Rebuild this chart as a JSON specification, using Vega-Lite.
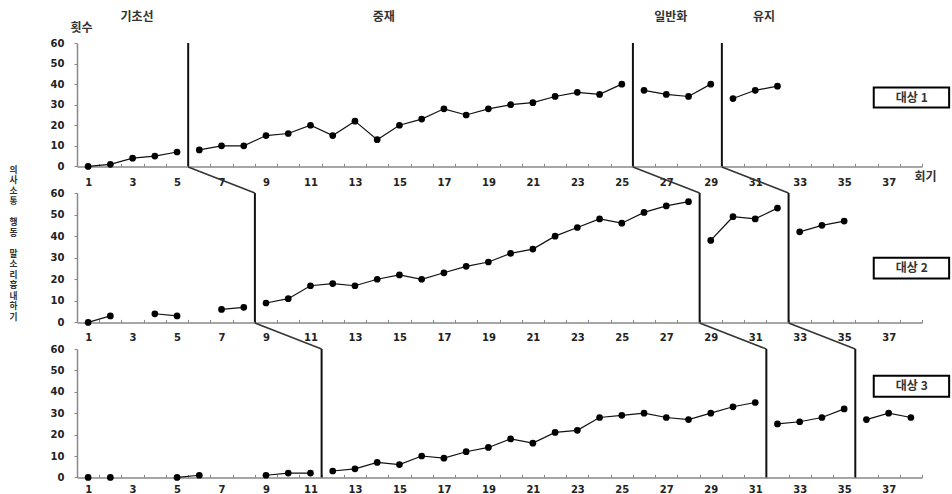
{
  "$schema": "https://vega.github.io/schema/vega-lite/v6.json",
  "padding": {"left": 9, "top": 11, "right": 0, "bottom": 0},
  "bounds": "flush",
  "spacing": 26,
  "datasets": {
    "sessions": [
      {"subject": "대상 1", "seg": "1b", "session": 1, "count": 0},
      {"subject": "대상 1", "seg": "1b", "session": 2, "count": 1},
      {"subject": "대상 1", "seg": "1b", "session": 3, "count": 4},
      {"subject": "대상 1", "seg": "1b", "session": 4, "count": 5},
      {"subject": "대상 1", "seg": "1b", "session": 5, "count": 7},
      {"subject": "대상 1", "seg": "1i", "session": 6, "count": 8},
      {"subject": "대상 1", "seg": "1i", "session": 7, "count": 10},
      {"subject": "대상 1", "seg": "1i", "session": 8, "count": 10},
      {"subject": "대상 1", "seg": "1i", "session": 9, "count": 15},
      {"subject": "대상 1", "seg": "1i", "session": 10, "count": 16},
      {"subject": "대상 1", "seg": "1i", "session": 11, "count": 20},
      {"subject": "대상 1", "seg": "1i", "session": 12, "count": 15},
      {"subject": "대상 1", "seg": "1i", "session": 13, "count": 22},
      {"subject": "대상 1", "seg": "1i", "session": 14, "count": 13},
      {"subject": "대상 1", "seg": "1i", "session": 15, "count": 20},
      {"subject": "대상 1", "seg": "1i", "session": 16, "count": 23},
      {"subject": "대상 1", "seg": "1i", "session": 17, "count": 28},
      {"subject": "대상 1", "seg": "1i", "session": 18, "count": 25},
      {"subject": "대상 1", "seg": "1i", "session": 19, "count": 28},
      {"subject": "대상 1", "seg": "1i", "session": 20, "count": 30},
      {"subject": "대상 1", "seg": "1i", "session": 21, "count": 31},
      {"subject": "대상 1", "seg": "1i", "session": 22, "count": 34},
      {"subject": "대상 1", "seg": "1i", "session": 23, "count": 36},
      {"subject": "대상 1", "seg": "1i", "session": 24, "count": 35},
      {"subject": "대상 1", "seg": "1i", "session": 25, "count": 40},
      {"subject": "대상 1", "seg": "1g", "session": 26, "count": 37},
      {"subject": "대상 1", "seg": "1g", "session": 27, "count": 35},
      {"subject": "대상 1", "seg": "1g", "session": 28, "count": 34},
      {"subject": "대상 1", "seg": "1g", "session": 29, "count": 40},
      {"subject": "대상 1", "seg": "1m", "session": 30, "count": 33},
      {"subject": "대상 1", "seg": "1m", "session": 31, "count": 37},
      {"subject": "대상 1", "seg": "1m", "session": 32, "count": 39},
      {"subject": "대상 2", "seg": "2b1", "session": 1, "count": 0},
      {"subject": "대상 2", "seg": "2b1", "session": 2, "count": 3},
      {"subject": "대상 2", "seg": "2b2", "session": 4, "count": 4},
      {"subject": "대상 2", "seg": "2b2", "session": 5, "count": 3},
      {"subject": "대상 2", "seg": "2b3", "session": 7, "count": 6},
      {"subject": "대상 2", "seg": "2b3", "session": 8, "count": 7},
      {"subject": "대상 2", "seg": "2i", "session": 9, "count": 9},
      {"subject": "대상 2", "seg": "2i", "session": 10, "count": 11},
      {"subject": "대상 2", "seg": "2i", "session": 11, "count": 17},
      {"subject": "대상 2", "seg": "2i", "session": 12, "count": 18},
      {"subject": "대상 2", "seg": "2i", "session": 13, "count": 17},
      {"subject": "대상 2", "seg": "2i", "session": 14, "count": 20},
      {"subject": "대상 2", "seg": "2i", "session": 15, "count": 22},
      {"subject": "대상 2", "seg": "2i", "session": 16, "count": 20},
      {"subject": "대상 2", "seg": "2i", "session": 17, "count": 23},
      {"subject": "대상 2", "seg": "2i", "session": 18, "count": 26},
      {"subject": "대상 2", "seg": "2i", "session": 19, "count": 28},
      {"subject": "대상 2", "seg": "2i", "session": 20, "count": 32},
      {"subject": "대상 2", "seg": "2i", "session": 21, "count": 34},
      {"subject": "대상 2", "seg": "2i", "session": 22, "count": 40},
      {"subject": "대상 2", "seg": "2i", "session": 23, "count": 44},
      {"subject": "대상 2", "seg": "2i", "session": 24, "count": 48},
      {"subject": "대상 2", "seg": "2i", "session": 25, "count": 46},
      {"subject": "대상 2", "seg": "2i", "session": 26, "count": 51},
      {"subject": "대상 2", "seg": "2i", "session": 27, "count": 54},
      {"subject": "대상 2", "seg": "2i", "session": 28, "count": 56},
      {"subject": "대상 2", "seg": "2g", "session": 29, "count": 38},
      {"subject": "대상 2", "seg": "2g", "session": 30, "count": 49},
      {"subject": "대상 2", "seg": "2g", "session": 31, "count": 48},
      {"subject": "대상 2", "seg": "2g", "session": 32, "count": 53},
      {"subject": "대상 2", "seg": "2m", "session": 33, "count": 42},
      {"subject": "대상 2", "seg": "2m", "session": 34, "count": 45},
      {"subject": "대상 2", "seg": "2m", "session": 35, "count": 47},
      {"subject": "대상 3", "seg": "3b1", "session": 1, "count": 0},
      {"subject": "대상 3", "seg": "3b2", "session": 2, "count": 0},
      {"subject": "대상 3", "seg": "3b3", "session": 5, "count": 0},
      {"subject": "대상 3", "seg": "3b3", "session": 6, "count": 1},
      {"subject": "대상 3", "seg": "3b4", "session": 9, "count": 1},
      {"subject": "대상 3", "seg": "3b4", "session": 10, "count": 2},
      {"subject": "대상 3", "seg": "3b4", "session": 11, "count": 2},
      {"subject": "대상 3", "seg": "3i", "session": 12, "count": 3},
      {"subject": "대상 3", "seg": "3i", "session": 13, "count": 4},
      {"subject": "대상 3", "seg": "3i", "session": 14, "count": 7},
      {"subject": "대상 3", "seg": "3i", "session": 15, "count": 6},
      {"subject": "대상 3", "seg": "3i", "session": 16, "count": 10},
      {"subject": "대상 3", "seg": "3i", "session": 17, "count": 9},
      {"subject": "대상 3", "seg": "3i", "session": 18, "count": 12},
      {"subject": "대상 3", "seg": "3i", "session": 19, "count": 14},
      {"subject": "대상 3", "seg": "3i", "session": 20, "count": 18},
      {"subject": "대상 3", "seg": "3i", "session": 21, "count": 16},
      {"subject": "대상 3", "seg": "3i", "session": 22, "count": 21},
      {"subject": "대상 3", "seg": "3i", "session": 23, "count": 22},
      {"subject": "대상 3", "seg": "3i", "session": 24, "count": 28},
      {"subject": "대상 3", "seg": "3i", "session": 25, "count": 29},
      {"subject": "대상 3", "seg": "3i", "session": 26, "count": 30},
      {"subject": "대상 3", "seg": "3i", "session": 27, "count": 28},
      {"subject": "대상 3", "seg": "3i", "session": 28, "count": 27},
      {"subject": "대상 3", "seg": "3i", "session": 29, "count": 30},
      {"subject": "대상 3", "seg": "3i", "session": 30, "count": 33},
      {"subject": "대상 3", "seg": "3i", "session": 31, "count": 35},
      {"subject": "대상 3", "seg": "3g", "session": 32, "count": 25},
      {"subject": "대상 3", "seg": "3g", "session": 33, "count": 26},
      {"subject": "대상 3", "seg": "3g", "session": 34, "count": 28},
      {"subject": "대상 3", "seg": "3g", "session": 35, "count": 32},
      {"subject": "대상 3", "seg": "3m", "session": 36, "count": 27},
      {"subject": "대상 3", "seg": "3m", "session": 37, "count": 30},
      {"subject": "대상 3", "seg": "3m", "session": 38, "count": 28}
    ],
    "phases": [
      {"subject": "대상 1", "at": 5.5},
      {"subject": "대상 1", "at": 25.5},
      {"subject": "대상 1", "at": 29.5},
      {"subject": "대상 2", "prev": 5.5, "at": 8.5},
      {"subject": "대상 2", "prev": 25.5, "at": 28.5},
      {"subject": "대상 2", "prev": 29.5, "at": 32.5},
      {"subject": "대상 3", "prev": 8.5, "at": 11.5},
      {"subject": "대상 3", "prev": 28.5, "at": 31.5},
      {"subject": "대상 3", "prev": 32.5, "at": 35.5}
    ],
    "phaseLabels": [
      {"label": "기초선", "mid": 3.2},
      {"label": "중재", "mid": 14.3},
      {"label": "일반화", "mid": 27.2},
      {"label": "유지", "mid": 31.4}
    ],
    "subjects": [
      {"subject": "대상 1"},
      {"subject": "대상 2"},
      {"subject": "대상 3"}
    ]
  },
  "vconcat": [
    {
      "width": 845,
      "height": 123.4,
      "layer": [
        {
          "data": {"name": "sessions"},
          "transform": [{"filter": "datum.subject === '대상 1'"}],
          "mark": {"type": "line", "color": "#111", "strokeWidth": 1.2},
          "encoding": {
            "x": {"field": "session", "type": "quantitative",
              "scale": {"domain": [0.5, 38.5], "nice": false, "zero": false},
              "axis": {"title": "회기", "titleX": 848, "titleY": 10, "titleAlign": "center", "titleBaseline": "middle",
                "values": [0.5,1,1.5,2.5,3,3.5,4.5,5,5.5,6.5,7,7.5,8.5,9,9.5,10.5,11,11.5,12.5,13,13.5,14.5,15,15.5,16.5,17,17.5,18.5,19,19.5,20.5,21,21.5,22.5,23,23.5,24.5,25,25.5,26.5,27,27.5,28.5,29,29.5,30.5,31,31.5,32.5,33,33.5,34.5,35,35.5,36.5,37,37.5,38.5],
                "tickCount": 200,
                "labelExpr": "datum.value % 2 === 1 ? '' + datum.value : ''",
                "tickOpacity": {"condition": {"test": "datum.value % 1 === 0", "value": 0}, "value": 1},
                "tickSize": -3, "labelPadding": 14, "labelOverlap": false, "labelFlush": false}},
            "y": {"field": "count", "type": "quantitative",
              "scale": {"domain": [0, 60], "nice": false},
              "axis": {"values": [0,10,20,30,40,50,60], "tickCount": 20, "tickSize": 3, "labelPadding": 10, "labelOverlap": false,
                "title": "횟수", "titleAngle": 0, "titleX": 4, "titleY": -15.5, "titleAlign": "center", "titleBaseline": "middle"}},
            "detail": {"field": "seg"}
          }
        },
        {
          "data": {"name": "sessions"},
          "transform": [{"filter": "datum.subject === '대상 1'"}],
          "mark": {"type": "point", "filled": true, "color": "#000", "size": 45, "opacity": 1},
          "encoding": {
            "x": {"field": "session", "type": "quantitative"},
            "y": {"field": "count", "type": "quantitative"}
          }
        },
        {
          "data": {"name": "phases"},
          "transform": [{"filter": "datum.subject === '대상 1'"}],
          "mark": {"type": "rule", "color": "#111", "strokeWidth": 2, "clip": false},
          "encoding": {
            "x": {"field": "at", "type": "quantitative"},
            "y": {"datum": 0},
            "y2": {"datum": 60}
          }
        },
        {
          "data": {"name": "phaseLabels"},
          "mark": {"type": "text", "font": "Noto Sans CJK KR", "fontSize": 12, "fontWeight": "bold", "color": "#333", "baseline": "middle", "align": "center", "clip": false},
          "encoding": {
            "x": {"field": "mid", "type": "quantitative"},
            "y": {"datum": 72.6},
            "text": {"field": "label"}
          }
        },
        {
          "data": {"name": "subjects"},
          "transform": [{"filter": "datum.subject === '대상 1'"}],
          "mark": {"type": "rect", "fill": "#fff", "stroke": "#000", "strokeWidth": 2, "clip": false},
          "encoding": {
            "x": {"datum": 36.33}, "x2": {"datum": 39.72},
            "y": {"datum": 38.4}, "y2": {"datum": 28.6}
          }
        },
        {
          "data": {"name": "subjects"},
          "transform": [{"filter": "datum.subject === '대상 1'"}],
          "mark": {"type": "text", "font": "Noto Sans CJK KR", "fontSize": 12, "fontWeight": "bold", "color": "#333", "baseline": "middle", "align": "center", "clip": false},
          "encoding": {
            "x": {"datum": 38.04},
            "y": {"datum": 33.5},
            "text": {"field": "subject"}
          }
        }
      ]
    },
    {
      "width": 845,
      "height": 129.4,
      "layer": [
        {
          "data": {"name": "sessions"},
          "transform": [{"filter": "datum.subject === '대상 2'"}],
          "mark": {"type": "line", "color": "#111", "strokeWidth": 1.2},
          "encoding": {
            "x": {"field": "session", "type": "quantitative",
              "scale": {"domain": [0.5, 38.5], "nice": false, "zero": false},
              "axis": {"title": null,
                "values": [0.5,1,1.5,2.5,3,3.5,4.5,5,5.5,6.5,7,7.5,8.5,9,9.5,10.5,11,11.5,12.5,13,13.5,14.5,15,15.5,16.5,17,17.5,18.5,19,19.5,20.5,21,21.5,22.5,23,23.5,24.5,25,25.5,26.5,27,27.5,28.5,29,29.5,30.5,31,31.5,32.5,33,33.5,34.5,35,35.5,36.5,37,37.5,38.5],
                "tickCount": 200,
                "labelExpr": "datum.value % 2 === 1 ? '' + datum.value : ''",
                "tickOpacity": {"condition": {"test": "datum.value % 1 === 0", "value": 0}, "value": 1},
                "tickSize": -3, "labelPadding": 13, "labelOverlap": false, "labelFlush": false}},
            "y": {"field": "count", "type": "quantitative",
              "scale": {"domain": [0, 60], "nice": false},
              "axis": {"values": [0,10,20,30,40,50,60], "tickCount": 20, "tickSize": 3, "labelPadding": 10, "labelOverlap": false,
                "title": ["의","사","소","통","\u200b","행","동","\u200b","말","소","리","흉","내","하","기"],
                "titleAngle": 0, "titleX": -64, "titleY": -28, "titleAlign": "center", "titleBaseline": "top",
                "titleFontSize": 8.7, "titleLineHeight": 10.5}},
            "detail": {"field": "seg"}
          }
        },
        {
          "data": {"name": "sessions"},
          "transform": [{"filter": "datum.subject === '대상 2'"}],
          "mark": {"type": "point", "filled": true, "color": "#000", "size": 45, "opacity": 1},
          "encoding": {
            "x": {"field": "session", "type": "quantitative"},
            "y": {"field": "count", "type": "quantitative"}
          }
        },
        {
          "data": {"name": "phases"},
          "transform": [{"filter": "datum.subject === '대상 2'"}],
          "mark": {"type": "rule", "color": "#111", "strokeWidth": 2, "clip": false},
          "encoding": {
            "x": {"field": "at", "type": "quantitative"},
            "y": {"datum": 0},
            "y2": {"datum": 60}
          }
        },
        {
          "data": {"name": "phases"},
          "transform": [{"filter": "datum.subject === '대상 2'"}],
          "mark": {"type": "rule", "color": "#333", "strokeWidth": 1.5, "clip": false},
          "encoding": {
            "x": {"field": "prev", "type": "quantitative"},
            "x2": {"field": "at"},
            "y": {"datum": 72.06},
            "y2": {"datum": 60}
          }
        },
        {
          "data": {"name": "subjects"},
          "transform": [{"filter": "datum.subject === '대상 2'"}],
          "mark": {"type": "rect", "fill": "#fff", "stroke": "#000", "strokeWidth": 2, "clip": false},
          "encoding": {
            "x": {"datum": 36.33}, "x2": {"datum": 39.72},
            "y": {"datum": 30.0}, "y2": {"datum": 20.3}
          }
        },
        {
          "data": {"name": "subjects"},
          "transform": [{"filter": "datum.subject === '대상 2'"}],
          "mark": {"type": "text", "font": "Noto Sans CJK KR", "fontSize": 12, "fontWeight": "bold", "color": "#333", "baseline": "middle", "align": "center", "clip": false},
          "encoding": {
            "x": {"datum": 38.04},
            "y": {"datum": 25.15},
            "text": {"field": "subject"}
          }
        }
      ]
    },
    {
      "width": 845,
      "height": 128.4,
      "layer": [
        {
          "data": {"name": "sessions"},
          "transform": [{"filter": "datum.subject === '대상 3'"}],
          "mark": {"type": "line", "color": "#111", "strokeWidth": 1.2},
          "encoding": {
            "x": {"field": "session", "type": "quantitative",
              "scale": {"domain": [0.5, 38.5], "nice": false, "zero": false},
              "axis": {"title": null,
                "values": [0.5,1,1.5,2.5,3,3.5,4.5,5,5.5,6.5,7,7.5,8.5,9,9.5,10.5,11,11.5,12.5,13,13.5,14.5,15,15.5,16.5,17,17.5,18.5,19,19.5,20.5,21,21.5,22.5,23,23.5,24.5,25,25.5,26.5,27,27.5,28.5,29,29.5,30.5,31,31.5,32.5,33,33.5,34.5,35,35.5,36.5,37,37.5,38.5],
                "tickCount": 200,
                "labelExpr": "datum.value % 2 === 1 ? '' + datum.value : ''",
                "tickOpacity": {"condition": {"test": "datum.value % 1 === 0", "value": 0}, "value": 1},
                "tickSize": -3, "labelPadding": 10, "labelOverlap": false, "labelFlush": false}},
            "y": {"field": "count", "type": "quantitative",
              "scale": {"domain": [0, 60], "nice": false},
              "axis": {"values": [0,10,20,30,40,50,60], "tickCount": 20, "tickSize": 3, "labelPadding": 10, "labelOverlap": false, "title": null}},
            "detail": {"field": "seg"}
          }
        },
        {
          "data": {"name": "sessions"},
          "transform": [{"filter": "datum.subject === '대상 3'"}],
          "mark": {"type": "point", "filled": true, "color": "#000", "size": 45, "opacity": 1},
          "encoding": {
            "x": {"field": "session", "type": "quantitative"},
            "y": {"field": "count", "type": "quantitative"}
          }
        },
        {
          "data": {"name": "phases"},
          "transform": [{"filter": "datum.subject === '대상 3'"}],
          "mark": {"type": "rule", "color": "#111", "strokeWidth": 2, "clip": false},
          "encoding": {
            "x": {"field": "at", "type": "quantitative"},
            "y": {"datum": 0},
            "y2": {"datum": 60}
          }
        },
        {
          "data": {"name": "phases"},
          "transform": [{"filter": "datum.subject === '대상 3'"}],
          "mark": {"type": "rule", "color": "#333", "strokeWidth": 1.5, "clip": false},
          "encoding": {
            "x": {"field": "prev", "type": "quantitative"},
            "x2": {"field": "at"},
            "y": {"datum": 72.15},
            "y2": {"datum": 60}
          }
        },
        {
          "data": {"name": "subjects"},
          "transform": [{"filter": "datum.subject === '대상 3'"}],
          "mark": {"type": "rect", "fill": "#fff", "stroke": "#000", "strokeWidth": 2, "clip": false},
          "encoding": {
            "x": {"datum": 36.33}, "x2": {"datum": 39.72},
            "y": {"datum": 47.5}, "y2": {"datum": 37.7}
          }
        },
        {
          "data": {"name": "subjects"},
          "transform": [{"filter": "datum.subject === '대상 3'"}],
          "mark": {"type": "text", "font": "Noto Sans CJK KR", "fontSize": 12, "fontWeight": "bold", "color": "#333", "baseline": "middle", "align": "center", "clip": false},
          "encoding": {
            "x": {"datum": 38.04},
            "y": {"datum": 42.6},
            "text": {"field": "subject"}
          }
        }
      ]
    }
  ],
  "config": {
    "view": {"stroke": null},
    "axis": {
      "grid": false,
      "labelOverlap": false,
      "domainColor": "#888",
      "domainWidth": 1.5,
      "tickColor": "#888",
      "tickWidth": 1,
      "labelFont": "DejaVu Sans",
      "labelFontSize": 10,
      "labelFontWeight": "bold",
      "labelColor": "#222",
      "titleFont": "Noto Sans CJK KR",
      "titleFontSize": 12,
      "titleFontWeight": "bold",
      "titleColor": "#333"
    }
  }
}
